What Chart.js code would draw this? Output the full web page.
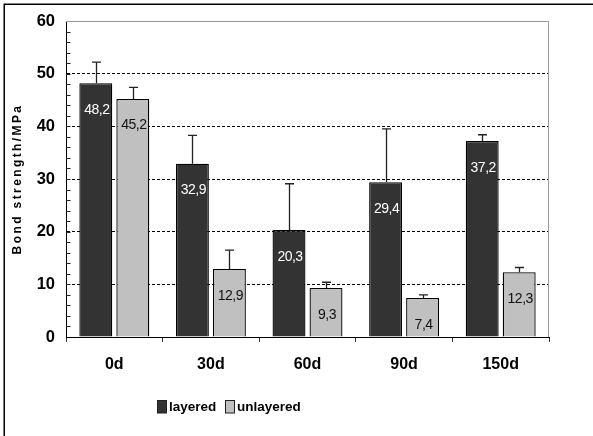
<!DOCTYPE html>
<html>
<head>
<meta charset="utf-8">
<title>Bond strength</title>
<script src="https://cdn.jsdelivr.net/npm/chart.js@4/dist/chart.umd.min.js"></script>
<style>
  html, body { margin: 0; padding: 0; background: #ffffff; }
  canvas { display: block; }
</style>
</head>
<body>
<canvas id="chart" width="593" height="436"></canvas>
<script>
// Ageing periods and mean bond strength (MPa)
const categories = ['0d', '30d', '60d', '90d', '150d'];
const layered = [48.2, 32.9, 20.3, 29.4, 37.2];
const unlayered = [45.2, 12.9, 9.3, 7.4, 12.3];
// Upper standard deviation of each mean
const layeredErr = [4.0, 5.4, 8.8, 10.1, 1.2];
const unlayeredErr = [2.2, 3.6, 1.1, 0.6, 0.9];
// Value axis
const yTicks = [0, 10, 20, 30, 40, 50, 60];
const yMinorStep = 2;
const seriesNames = ['layered', 'unlayered'];

const FONT = '"Liberation Sans", Arial, Helvetica, sans-serif';
const DARK = '#333333';
const LIGHT = '#c0c0c0';

const fmt = v => v.toFixed(1).replace('.', ',');

// White page plus the thin frame at the upper-left
const framePlugin = {
  id: 'frame',
  beforeDraw(chart) {
    const ctx = chart.ctx;
    ctx.save();
    ctx.fillStyle = '#ffffff';
    ctx.fillRect(0, 0, chart.width, chart.height);
    ctx.strokeStyle = '#000000';
    ctx.lineWidth = 1.5;
    ctx.strokeRect(4.25, 4.25, chart.width + 20, chart.height + 20);
    ctx.restore();
  }
};

// Grey top/right edge of the plot area and the short inner ticks on the value axis
const plotEdgePlugin = {
  id: 'plotEdge',
  afterDraw(chart) {
    const { ctx, chartArea: a, scales: { y } } = chart;
    ctx.save();
    ctx.strokeStyle = '#999999';
    ctx.lineWidth = 1;
    ctx.beginPath();
    ctx.moveTo(a.left, a.top + 0.5);
    ctx.lineTo(a.right - 0.5, a.top + 0.5);
    ctx.lineTo(a.right - 0.5, a.bottom);
    ctx.stroke();
    ctx.strokeStyle = '#222222';
    ctx.beginPath();
    for (let v = yTicks[0] + yMinorStep; v < yTicks[yTicks.length - 1]; v += yMinorStep) {
      const py = Math.round(y.getPixelForValue(v)) + 0.5;
      ctx.moveTo(a.left, py);
      ctx.lineTo(a.left + 4.5, py);
    }
    ctx.stroke();
    ctx.restore();
  }
};

// Upper error whiskers and the value written inside each bar
const barExtrasPlugin = {
  id: 'barExtras',
  afterDatasetsDraw(chart) {
    const { ctx, scales: { y } } = chart;
    const errs = [layeredErr, unlayeredErr];
    const textColors = ['#ffffff', '#111111'];
    ctx.save();
    chart.data.datasets.forEach((ds, di) => {
      const meta = chart.getDatasetMeta(di);
      meta.data.forEach((bar, i) => {
        const v = ds.data[i];
        const x = Math.round(bar.x) + 0.5;
        const yTop = y.getPixelForValue(v + errs[di][i]);
        ctx.strokeStyle = '#222222';
        ctx.lineWidth = 1.3;
        ctx.beginPath();
        ctx.moveTo(x, bar.y);
        ctx.lineTo(x, yTop);
        ctx.moveTo(x - 4.5, yTop);
        ctx.lineTo(x + 4.5, yTop);
        ctx.stroke();

        ctx.fillStyle = textColors[di];
        ctx.font = '14px ' + FONT;
        ctx.letterSpacing = '-0.5px';
        ctx.textAlign = 'center';
        ctx.textBaseline = 'alphabetic';
        ctx.fillText(fmt(v), bar.x + 1, bar.y + 30.5);
      });
    });
    ctx.restore();
  }
};

// Rotated, letter-spaced title of the value axis
const yTitlePlugin = {
  id: 'yTitle',
  afterDraw(chart) {
    const ctx = chart.ctx;
    ctx.save();
    ctx.translate(18, 179);
    ctx.rotate(-Math.PI / 2);
    ctx.font = 'bold 12px ' + FONT;
    ctx.letterSpacing = '2.4px';
    ctx.fillStyle = '#000000';
    ctx.textAlign = 'center';
    ctx.textBaseline = 'middle';
    ctx.fillText('Bond strength/MPa', 0, 0);
    ctx.restore();
  }
};

// Series key below the category labels
const keyPlugin = {
  id: 'key',
  afterDraw(chart) {
    const ctx = chart.ctx;
    const starts = [157.5, 225.5];
    ctx.save();
    ctx.font = 'bold 13.5px ' + FONT;
    ctx.textBaseline = 'alphabetic';
    ctx.textAlign = 'left';
    chart.data.datasets.forEach((ds, di) => {
      const x0 = starts[di];
      ctx.fillStyle = ds.backgroundColor;
      ctx.fillRect(x0, 400.5, 9, 12.5);
      ctx.strokeStyle = '#222222';
      ctx.lineWidth = 1;
      ctx.strokeRect(x0, 400.5, 9, 12.5);
      ctx.fillStyle = '#000000';
      ctx.fillText(ds.label, x0 + 11.5, 410.5);
    });
    ctx.restore();
  }
};

new Chart(document.getElementById('chart'), {
  type: 'bar',
  data: {
    labels: categories,
    datasets: [
      {
        label: seriesNames[0],
        data: layered,
        backgroundColor: DARK,
        borderColor: '#000000',
        borderWidth: 1.3,
        categoryPercentage: 0.766,
        barPercentage: 0.89
      },
      {
        label: seriesNames[1],
        data: unlayered,
        backgroundColor: LIGHT,
        borderColor: '#000000',
        borderWidth: 1.3,
        categoryPercentage: 0.766,
        barPercentage: 0.89
      }
    ]
  },
  options: {
    responsive: false,
    animation: false,
    devicePixelRatio: 1,
    layout: { padding: { left: 0, top: 21, right: 44, bottom: 59 } },
    plugins: {
      legend: { display: false },
      tooltip: { enabled: false }
    },
    scales: {
      x: {
        grid: {
          offset: true,
          drawOnChartArea: false,
          drawTicks: true,
          tickLength: 5,
          tickColor: '#333333',
          tickWidth: 1
        },
        border: { display: true, color: '#000000', width: 1 },
        ticks: {
          color: '#000000',
          padding: 13,
          font: { family: FONT, size: 16, weight: 'bold' }
        },
        afterFit(scale) { scale.height = 40; }
      },
      y: {
        min: yTicks[0],
        max: yTicks[yTicks.length - 1],
        afterBuildTicks(scale) {
          scale.ticks = yTicks.map(v => ({ value: v }));
        },
        grid: {
          drawTicks: false,
          lineWidth: 1,
          color: c => (c.tick && (c.tick.value === yTicks[0] || c.tick.value === yTicks[yTicks.length - 1])) ? 'rgba(0,0,0,0)' : '#000000'
        },
        border: { display: true, color: '#000000', width: 1, dash: [3, 2] },
        ticks: {
          color: '#000000',
          padding: 11,
          font: { family: FONT, size: 16.5, weight: 'bold' }
        },
        afterFit(scale) { scale.width = 66; }
      }
    }
  },
  plugins: [framePlugin, plotEdgePlugin, barExtrasPlugin, yTitlePlugin, keyPlugin]
});
</script>
</body>
</html>
